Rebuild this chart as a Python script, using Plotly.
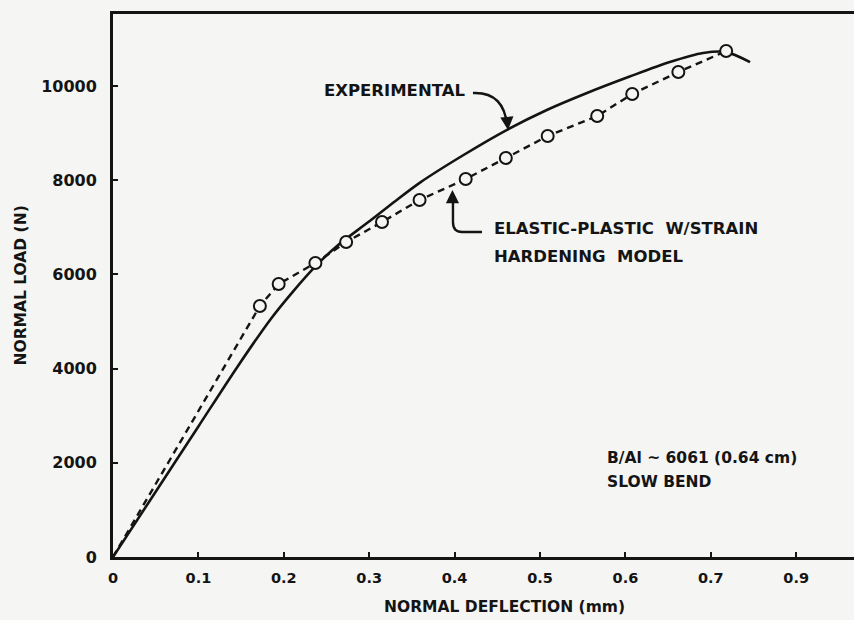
import plotly.graph_objects as go

# Load-deflection data, B/Al-6061 slow bend test
exp_defl = [0, 0.05, 0.1, 0.145, 0.185, 0.21, 0.237, 0.262, 0.299, 0.33,
            0.3595, 0.41, 0.4614, 0.508, 0.555, 0.605, 0.652, 0.691, 0.718,
            0.746]
exp_load = [0, 1386, 2772, 4020, 5060, 5620, 6170, 6600, 7112, 7550,
            7950, 8530, 9070, 9490, 9851, 10200, 10509, 10700, 10720,
            10509]

model_defl = [0, 0.172, 0.194, 0.237, 0.273, 0.315, 0.359, 0.413, 0.460,
              0.509, 0.567, 0.608, 0.662, 0.718]
model_load = [0, 5330, 5796, 6242, 6687, 7112, 7579, 8025, 8471,
              8938, 9362, 9830, 10297, 10743]

x_ticks = [0, 0.1, 0.2, 0.3, 0.4, 0.5, 0.6, 0.7, 0.8]
x_tick_text = ["0", "0.1", "0.2", "0.3", "0.4", "0.5", "0.6", "0.7", "0.9"]
y_ticks = [0, 2000, 4000, 6000, 8000, 10000]
y_tick_text = ["0", "2000", "4000", "6000", "8000", "10000"]

BG = "#f5f5f3"
INK = "#141414"
FONT = "DejaVu Sans"


def ink_font(size):
    return dict(family=FONT, size=size, color=INK, weight="bold")


fig = go.Figure()

# Experimental curve (solid)
fig.add_trace(go.Scatter(
    x=exp_defl, y=exp_load, mode="lines",
    line=dict(color=INK, width=2.6, shape="spline", smoothing=0.8),
    showlegend=False, hoverinfo="skip",
))

# Model curve (dashed) and its open-circle points drawn on top
fig.add_trace(go.Scatter(
    x=model_defl, y=model_load, mode="lines",
    line=dict(color=INK, width=2.4, dash="7px,5px"),
    showlegend=False, hoverinfo="skip",
))
fig.add_trace(go.Scatter(
    x=model_defl[1:], y=model_load[1:], mode="markers",
    marker=dict(size=12, color=BG, opacity=1,
                line=dict(color=INK, width=2)),
    showlegend=False, hoverinfo="skip",
))

# Curved leader lines for the two curve labels
leader_style = dict(type="path", xref="x", yref="y",
                    line=dict(color=INK, width=2.4))
fig.add_shape(path="M 0.4215,9851 C 0.447,9872 0.459,9597 0.4614,9172",
              **leader_style)
fig.add_shape(path="M 0.4321,6900 L 0.4087,6900 Q 0.3981,6900 0.3981,7112 "
                   "L 0.3981,7579", **leader_style)

arrow_style = dict(text="", showarrow=True, arrowhead=2, arrowsize=1.1,
                   arrowwidth=2.4, arrowcolor=INK, xref="x", yref="y")
fig.add_annotation(x=0.4625, y=9065, ax=-1, ay=-12, **arrow_style)
fig.add_annotation(x=0.3975, y=7791, ax=0, ay=12, **arrow_style)

text_style = dict(showarrow=False, xref="x", yref="y", xanchor="left",
                  yanchor="middle")
fig.add_annotation(x=0.2447, y=9914, text="EXPERIMENTAL",
                   font=ink_font(16.5), **text_style)
fig.add_annotation(x=0.4438, y=6985,
                   text="ELASTIC-PLASTIC\u00a0\u00a0W/STRAIN",
                   font=ink_font(16.5), **text_style)
fig.add_annotation(x=0.4438, y=6390, text="HARDENING\u00a0 MODEL",
                   font=ink_font(16.5), **text_style)
fig.add_annotation(x=0.5761, y=2102, text="B/Al ~ 6061 (0.64 cm)",
                   font=ink_font(15.5), **text_style)
fig.add_annotation(x=0.5761, y=1592, text="SLOW BEND",
                   font=ink_font(15.5), **text_style)

# Axis titles
fig.add_annotation(x=0.529, y=-0.092, xref="paper", yref="paper",
                   text="NORMAL DEFLECTION (mm)", showarrow=False,
                   xanchor="center", yanchor="middle", font=ink_font(15.5))
fig.add_annotation(x=-0.1255, y=0.5, xref="paper", yref="paper",
                   text="NORMAL LOAD (N)", showarrow=False, textangle=-90,
                   xanchor="center", yanchor="middle", font=ink_font(15.5))

fig.update_layout(
    width=854, height=620, autosize=False,
    margin=dict(l=113, r=0, t=14, b=63, pad=0),
    paper_bgcolor=BG, plot_bgcolor=BG,
    xaxis=dict(range=[0, 0.8677], tickvals=x_ticks, ticktext=x_tick_text,
               showline=True, linewidth=3, linecolor=INK, mirror=True,
               showgrid=False, zeroline=False, ticks="inside", ticklen=5,
               tickwidth=2, tickcolor=INK, ticklabelstandoff=6,
               tickfont=ink_font(14.5)),
    yaxis=dict(range=[0, 11529], tickvals=y_ticks, ticktext=y_tick_text,
               showline=True, linewidth=3, linecolor=INK, mirror=False,
               showgrid=False, zeroline=False, ticks="inside", ticklen=5,
               tickwidth=2, tickcolor=INK, ticklabelstandoff=10,
               tickfont=ink_font(16)),
)

fig.write_html("out.html")
